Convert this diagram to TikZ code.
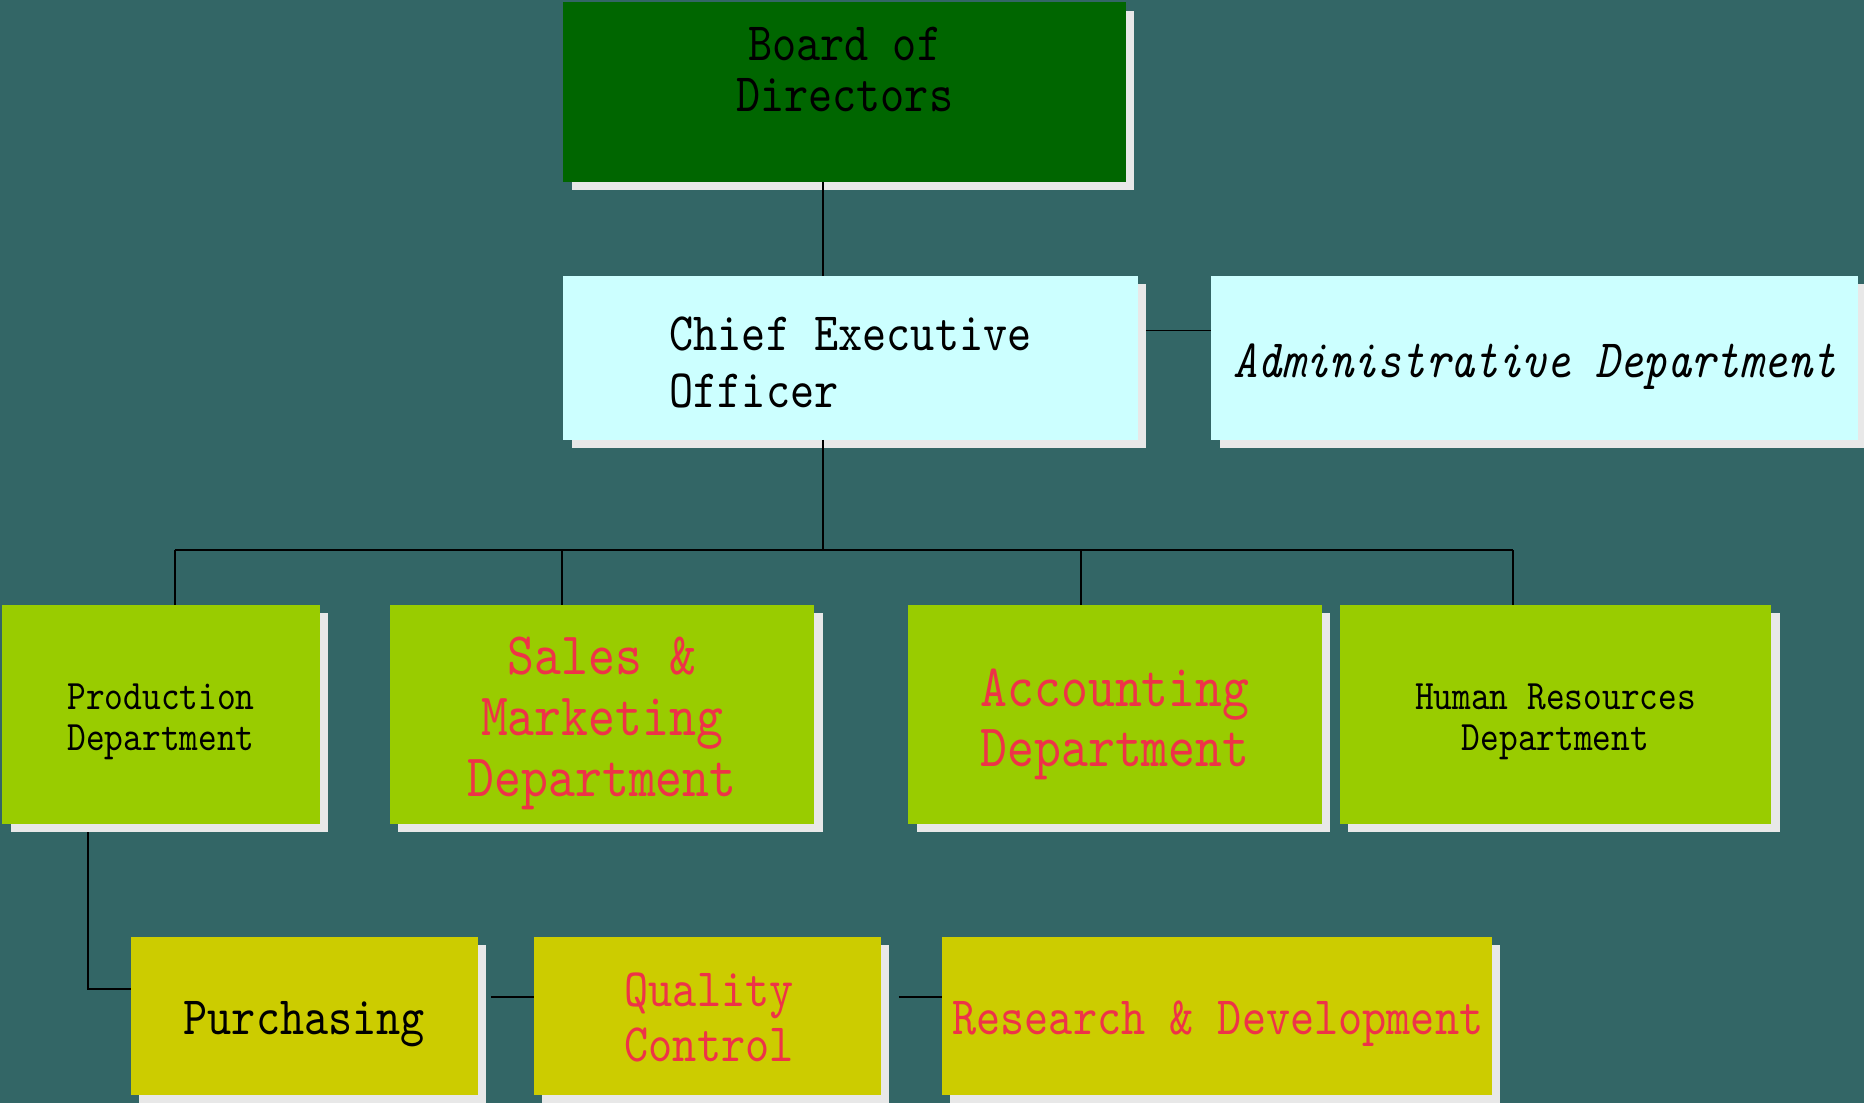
\documentclass[tikz,border=0pt]{standalone}
\usepackage{fontspec}
\newfontfamily\cnmono{lmmono10-regular.otf}[FakeStretch=0.85, ItalicFont=lmmono10-italic.otf]
\usetikzlibrary{shadows}
\definecolor{bgteal}{HTML}{336666}
\definecolor{boardgreen}{HTML}{006600}
\definecolor{paleCyan}{HTML}{CCFFFF}
\definecolor{limeGreen}{HTML}{99CC00}
\definecolor{oliveYellow}{HTML}{CCCC00}
\definecolor{shadowGray}{HTML}{E8E8E8}
\definecolor{redText}{RGB}{238,51,72}
\newcommand{\boxtext}[3]{\raisebox{#1pt}[0pt][0pt]{\begin{tabular}[t]{@{}#2@{}}#3\end{tabular}}}
\tikzset{
  orgbox/.style={rectangle, inner sep=0pt, outer sep=0pt,
    drop shadow={shadow xshift=7pt, shadow yshift=-7pt, fill=shadowGray, opacity=1}},
  fnt/.style 2 args={font=\cnmono\fontsize{#1}{#2}\selectfont},
  link/.style={draw=black, line width=1.6pt},
}
\begin{document}
\begin{tikzpicture}[x=1pt,y=-1pt]
\fill[bgteal] (0,0) rectangle (1568,928);
\useasboundingbox (0,0) rectangle (1568,928);

% level 0
\node[orgbox, fnt={45.5}{43.5}, fill=boardgreen, minimum width=473pt, minimum height=151pt] (board) at (710.5,77.5)
  {\boxtext{27}{c}{Board of\\Directors}};

% level 1
\node[orgbox, fnt={45.5}{48}, fill=paleCyan, minimum width=483pt, minimum height=138pt] (ceo) at (715.5,301)
  {\boxtext{6.5}{l}{Chief Executive\\Officer}};
\node[orgbox, fnt={45.5}{48}, fill=paleCyan, minimum width=544pt, minimum height=138pt] (admin) at (1291,301)
  {\boxtext{-16.4}{l}{\itshape Administrative Department}};

% level 2
\node[orgbox, fnt={35.3}{34.5}, fill=limeGreen, minimum width=267pt, minimum height=184pt] (prod) at (135.5,601)
  {\boxtext{4.3}{l}{Production\\Department}};
\node[orgbox, fnt={50.7}{51.2}, fill=limeGreen, minimum width=357pt, minimum height=184pt, text=redText] (sales) at (506.5,601)
  {\boxtext{33.2}{c}{Sales \&\\Marketing\\Department}};
\node[orgbox, fnt={50.7}{51}, fill=limeGreen, minimum width=348pt, minimum height=184pt, text=redText] (acct) at (938,601)
  {\boxtext{7.1}{l}{Accounting\\Department}};
\node[orgbox, fnt={35.3}{34.8}, fill=limeGreen, minimum width=363pt, minimum height=184pt] (hr) at (1308.5,601)
  {\boxtext{4.3}{c}{Human Resources\\Department}};

% level 3
\node[orgbox, fnt={45.5}{46}, fill=oliveYellow, minimum width=292pt, minimum height=133pt] (purch) at (256,854.5)
  {\boxtext{-15.5}{l}{Purchasing}};
\node[orgbox, fnt={45.5}{46}, fill=oliveYellow, minimum width=292pt, minimum height=133pt, text=redText] (qc) at (595,854.5)
  {\hspace*{3pt}\boxtext{7.5}{l}{Quality\\Control}};
\node[orgbox, fnt={45.5}{46}, fill=oliveYellow, minimum width=463pt, minimum height=133pt, text=redText] (rd) at (1023.5,854.5)
  {\hspace*{2pt}\boxtext{-15.5}{l}{Research \& Development}};

% junction coordinates
\coordinate (bus) at (692,463);
\coordinate (busL) at (147,463);
\coordinate (busR) at (1273,463);

% connectors
\draw[link] (board.south -| bus) -- (ceo.north -| bus);
\draw[link] ([xshift=7pt]ceo.east |- 0,278) -- (admin.west |- 0,278);
\draw[link] (ceo.south -| bus) -- (bus);
\draw[link] (busL) -- (busR);
\draw[link] (busL) -- (prod.north -| busL);
\draw[link] (473,463) -- (sales.north -| 473,0);
\draw[link] (909,463) -- (acct.north -| 909,0);
\draw[link] (busR) -- (hr.north -| busR);
\draw[link] ([yshift=-7pt]prod.south -| 74,0) |- (purch.west |- 0,832);
\draw[link] (413,839) -- (qc.west |- 0,839);
\draw[link] (756,839) -- (rd.west |- 0,839);
\end{tikzpicture}
\end{document}
